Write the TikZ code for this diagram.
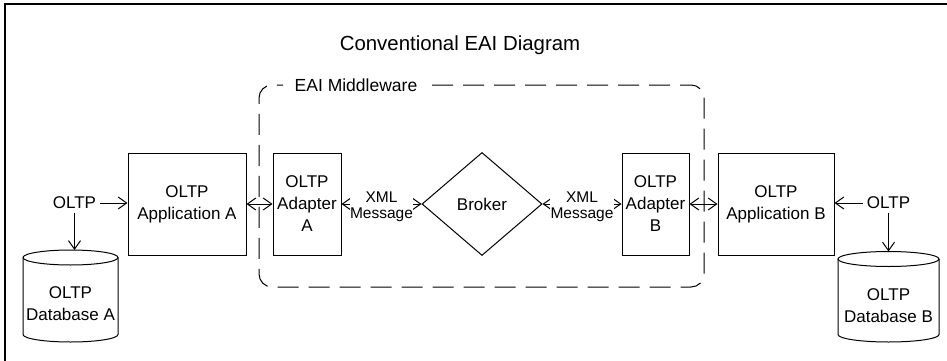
\documentclass[tikz,border=0pt]{standalone}
\usepackage{fontspec}
\setmainfont{Liberation Sans}
\usetikzlibrary{arrows.meta,shapes.geometric}
\begin{document}
\begin{tikzpicture}[x=1pt,y=-1pt,
  line width=1pt,
  box/.style={draw,rectangle,minimum width=#1,minimum height=102pt,align=center,font=\fontsize{17}{22}\selectfont,inner sep=1pt},
  lbl/.style={align=center,font=\fontsize{17}{22}\selectfont,inner sep=3pt},
  small/.style={align=center,font=\fontsize{15.5}{16.5}\selectfont,fill=white,inner sep=0.5pt},
  tip/.tip={Straight Barb[length=8.5pt,width=12pt,line join=miter]},
  arr/.style={-tip},
  darr/.style={tip-tip},
  grp/.style={dash pattern=on 21pt off 10pt,rounded corners=13pt}
]
\useasboundingbox (0,0) rectangle (947,361);
\draw[line width=1.3pt] (5,361) -- (5,4) -- (947,4);

\node[font=\fontsize{20.4}{24}\selectfont] (title) at (460,45) {Conventional EAI Diagram};

% middleware group
\node[font=\fontsize{17.5}{21}\selectfont,inner sep=0pt] (mw) at (356,85) {EAI Middleware};
\draw[grp] (432,85) -- (704,85) -- (704,287) -- (259,287) -- (259,85) -- (283,85);

% boxes
\node[box=118pt] (appA) at (187,204) {OLTP\\Application A};
\node[box=68pt] (adA) at (307,204) {OLTP\\Adapter\\A};
\node[draw,diamond,minimum width=120pt,minimum height=103pt,inner sep=0pt,font=\fontsize{17}{22}\selectfont] (broker) at (482,204) {Broker};
\node[box=67pt] (adB) at (655.5,204) {OLTP\\Adapter\\B};
\node[box=116pt] (appB) at (776,204) {OLTP\\Application B};

% OLTP inputs
\node[lbl] (oltpA) at (74.5,203) {OLTP};
\node[lbl] (oltpB) at (888.5,203) {OLTP};
\coordinate (topA) at (74.5,250);
\coordinate (topB) at (888.5,251.5);

% databases
\draw (23,257.5) -- (23,334.5) arc[start angle=180,end angle=360,x radius=47.5pt,y radius=7.5pt] -- (118,257.5);
\draw (70.5,257.5) ellipse [x radius=47.5pt, y radius=7.5pt];
\node[lbl] (dbA) at (70.5,304) {OLTP\\Database A};

\draw (838,259) -- (838,334.5) arc[start angle=180,end angle=360,x radius=50.5pt,y radius=7.5pt] -- (939,259);
\draw (888.5,259) ellipse [x radius=50.5pt, y radius=7.5pt];
\node[lbl] (dbB) at (888.5,306) {OLTP\\Database B};

% connectors
\draw[arr] (oltpA.east) -- (oltpA.east -| appA.west);
\draw[arr] (oltpA.south) -- (topA);
\draw[arr] (oltpB.west) -- (oltpB.west -| appB.east);
\draw[arr] (oltpB.south) -- (topB);

\draw[darr] (appA.east) -- (adA.west);
\draw[darr] (adA.east) -- (broker.west) node[small,midway,yshift=-3pt] {XML\\Message};
\draw[darr] (broker.east) -- (adB.west) node[small,midway,yshift=-3pt] {XML\\Message};
\draw[darr] (adB.east) -- (appB.west);
\end{tikzpicture}
\end{document}
